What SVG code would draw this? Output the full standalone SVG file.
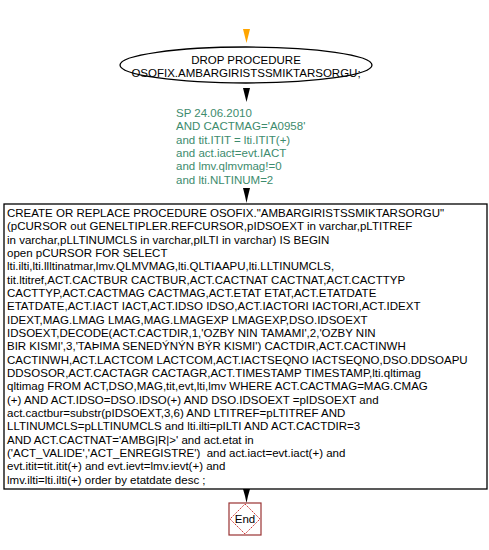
<svg xmlns="http://www.w3.org/2000/svg" width="489" height="550" viewBox="0 0 489 550">
<defs>
<style>
text{font-family:"Liberation Sans",Arial,sans-serif;font-size:11.5px;fill:#000}
.c{text-anchor:middle}
.g{fill:#3d8b6d}
.sh{fill:#fff;stroke:#000;stroke-width:1.3}
</style>
</defs>
<rect width="489" height="550" fill="#fff"/>
<g id="connectors">
<path d="M243,29 L250,29 L248,37 L246.5,43 L245,37 Z" fill="#ffa500"/>
<path d="M243,88 L250,88 L248,96 L246.5,102 L245,96 Z" fill="#000"/>
<path d="M243,188 L250,188 L248,196 L246.5,203 L245,196 Z" fill="#000"/>
<path d="M243,489 L250,489 L248,496 L246.5,503 L245,496 Z" fill="#000"/>
</g>
<g id="start">
<ellipse class="sh" cx="246" cy="65" rx="126" ry="18"/>
<text class="c" x="246" y="64">DROP PROCEDURE</text>
<text class="c" x="246" y="77">OSOFIX.AMBARGIRISTSSMIKTARSORGU;</text>
</g>
<g id="comment">
<text class="g" x="176" y="117">SP 24.06.2010</text>
<text class="g" x="176" y="130.3">AND CACTMAG='A0958'</text>
<text class="g" x="176" y="143.7">and tit.ITIT = lti.ITIT(+)</text>
<text class="g" x="176" y="157">and act.iact=evt.IACT</text>
<text class="g" x="176" y="170.3">and lmv.qlmvmag!=0</text>
<text class="g" x="176" y="183.7">and lti.NLTINUM=2</text>
</g>
<g id="procedure">
<rect class="sh" x="4" y="204" width="483" height="285"/>
<text x="7" y="217">CREATE OR REPLACE PROCEDURE OSOFIX."AMBARGIRISTSSMIKTARSORGU"</text>
<text x="7" y="230.3">(pCURSOR out GENELTIPLER.REFCURSOR,pIDSOEXT in varchar,pLTITREF</text>
<text x="7" y="243.7">in varchar,pLLTINUMCLS in varchar,pILTI in varchar) IS BEGIN</text>
<text x="7" y="257">open pCURSOR FOR SELECT</text>
<text x="7" y="270.3">lti.ilti,lti.llltinatmar,lmv.QLMVMAG,lti.QLTIAAPU,lti.LLTINUMCLS,</text>
<text x="7" y="283.7">tit.ltitref,ACT.CACTBUR CACTBUR,ACT.CACTNAT CACTNAT,ACT.CACTTYP</text>
<text x="7" y="297">CACTTYP,ACT.CACTMAG CACTMAG,ACT.ETAT ETAT,ACT.ETATDATE</text>
<text x="7" y="310.3">ETATDATE,ACT.IACT IACT,ACT.IDSO IDSO,ACT.IACTORI IACTORI,ACT.IDEXT</text>
<text x="7" y="323.7">IDEXT,MAG.LMAG LMAG,MAG.LMAGEXP LMAGEXP,DSO.IDSOEXT</text>
<text x="7" y="337">IDSOEXT,DECODE(ACT.CACTDIR,1,'OZBY NIN TAMAMI',2,'OZBY NIN</text>
<text x="7" y="350.3">BIR KISMI',3,'TAÞIMA SENEDÝNÝN BÝR KISMI') CACTDIR,ACT.CACTINWH</text>
<text x="7" y="363.7">CACTINWH,ACT.LACTCOM LACTCOM,ACT.IACTSEQNO IACTSEQNO,DSO.DDSOAPU</text>
<text x="7" y="377">DDSOSOR,ACT.CACTAGR CACTAGR,ACT.TIMESTAMP TIMESTAMP,lti.qltimag</text>
<text x="7" y="390.3">qltimag FROM ACT,DSO,MAG,tit,evt,lti,lmv WHERE ACT.CACTMAG=MAG.CMAG</text>
<text x="7" y="403.7">(+) AND ACT.IDSO=DSO.IDSO(+) AND DSO.IDSOEXT =pIDSOEXT and</text>
<text x="7" y="417">act.cactbur=substr(pIDSOEXT,3,6) AND LTITREF=pLTITREF AND</text>
<text x="7" y="430.3">LLTINUMCLS=pLLTINUMCLS and lti.ilti=pILTI AND ACT.CACTDIR=3</text>
<text x="7" y="443.7">AND ACT.CACTNAT='AMBG|R|&gt;' and act.etat in</text>
<text x="7" y="457" xml:space="preserve">('ACT_VALIDE','ACT_ENREGISTRE')  and act.iact=evt.iact(+) and</text>
<text x="7" y="470.3">evt.itit=tit.itit(+) and evt.ievt=lmv.ievt(+) and</text>
<text x="7" y="483.7">lmv.ilti=lti.ilti(+) order by etatdate desc ;</text>
</g>
<g id="end">
<rect x="229" y="503" width="32" height="32" fill="#fff" stroke="#993333" stroke-width="1.2"/>
<path d="M245,504 L260,519 L245,534 L230,519 Z" fill="none" stroke="#cc3333" stroke-width="1" stroke-dasharray="1.5,1"/>
<text class="c" x="245" y="523">End</text>
</g>
</svg>
